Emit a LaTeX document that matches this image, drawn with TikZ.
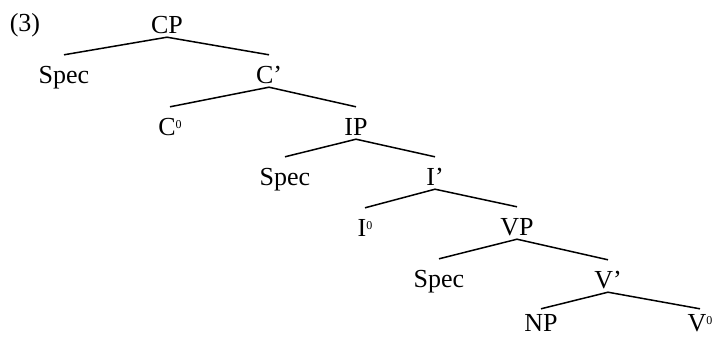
\documentclass[tikz,border=0pt]{standalone}
\usepackage{fontspec}
\setmainfont{Liberation Serif}
\newcommand\zsup{\raisebox{7pt}{\fontsize{12}{12}\selectfont 0}}
\begin{document}
\begin{tikzpicture}[x=1pt, y=-1pt, every node/.style={font=\fontsize{26}{30}\selectfont},
  cat/.style={anchor=base,inner xsep=1pt,inner ysep=0pt,text height=28pt,text depth=4pt},
  leaf/.style={cat,text height=22pt,text depth=0pt},
  branch/.style={line width=1.5pt}]
\useasboundingbox (0,0) rectangle (715,338);
\node[anchor=base] (ex) at (25,31) {(3)};
% CP layer
\node[cat] (cp) at (167,33) {CP};
\node[cat] (specc) at (64,83) {Spec};
\node[cat] (cbar) at (269,83) {C’};
\node[cat] (czero) at (170,135) {C\zsup};
% IP layer
\node[cat] (ip) at (356,135) {IP};
\node[cat] (speci) at (285,185) {Spec};
\node[cat] (ibar) at (435,185) {I’};
\node[cat] (izero) at (365,236) {I\zsup};
% VP layer
\node[cat] (vp) at (517,235) {VP};
\node[cat] (specv) at (439,287) {Spec};
\node[cat] (vbar) at (608,288) {V’};
\node[leaf] (np) at (541,331) {NP};
\node[leaf] (vzero) at (700,331) {V\zsup};
% branches
\foreach \p/\c in {cp/specc,cp/cbar,cbar/czero,cbar/ip,ip/speci,ip/ibar,ibar/izero,ibar/vp,vp/specv,vp/vbar,vbar/np,vbar/vzero}
  \draw[branch] (\p.south) -- (\c.north);
\end{tikzpicture}
\end{document}
